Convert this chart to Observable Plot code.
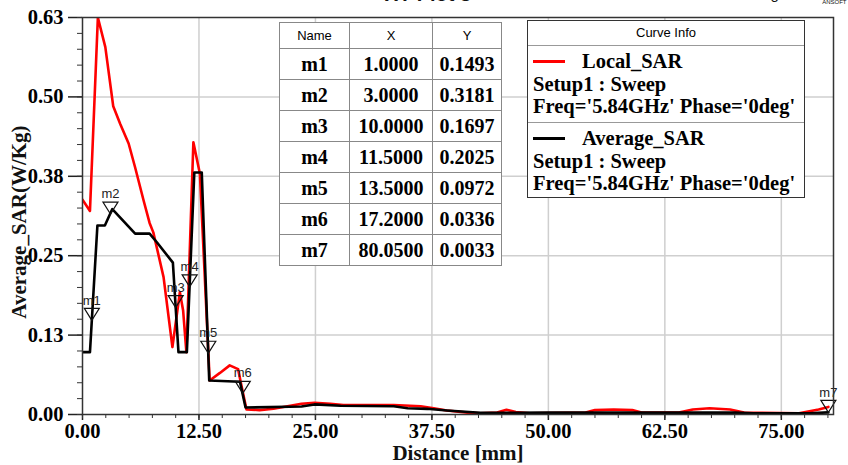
<!DOCTYPE html>
<html>
<head>
<meta charset="utf-8">
<script src="https://cdn.jsdelivr.net/npm/d3@7"></script>
<script src="https://cdn.jsdelivr.net/npm/@observablehq/plot@0.6"></script>
<style>
  body { margin: 0; background: white; }
  #wrap { position: relative; width: 848px; height: 465px; overflow: hidden; background: white; }
  #tbl { position: absolute; left: 279px; top: 22px; border-collapse: collapse; background: white; border: 1.5px solid #333; }
  #tbl td, #tbl th { border: 1px solid #888; padding: 0; text-align: center; }
  #tbl th { font-family: "Liberation Sans", Arial, sans-serif; font-weight: normal; font-size: 13px; height: 25px; }
  #tbl td { font-family: "Liberation Serif", "Times New Roman", serif; font-weight: bold; font-size: 20px; height: 30px; }
  #legend { position: absolute; left: 527px; top: 20px; width: 276px; height: 176px; border: 1.5px solid #333; background: white; }
  #legend .hdr { position: absolute; left: 0; top: 0; width: 100%; height: 24px; border-bottom: 1px solid #999; font-family: "Liberation Sans", Arial, sans-serif; font-size: 13px; text-align: center; line-height: 24px; }
  #legend .sep { position: absolute; left: 0; top: 101px; width: 100%; border-top: 1px solid #999; }
  #legend .sw { position: absolute; left: 5px; width: 32px; height: 3px; }
  #legend .t { position: absolute; white-space: nowrap; font-family: "Liberation Serif", "Times New Roman", serif; font-weight: bold; font-size: 20.5px; line-height: 20px; }
</style>
</head>
<body>
<div id="wrap"></div>
<script>
// ---- data ----
const localX = [0, 0.8, 1.65, 2.45, 3.3, 4.05, 4.95, 5.65, 6.55, 7.2, 7.6, 8.7, 9.65, 10.45, 10.8, 11.15, 11.9, 12.6, 13.65, 14.75, 15.8, 16.7, 17.0, 17.6, 19, 20.5, 23.5, 24.9, 26.6, 28, 33.4, 36.3, 37.7, 39.1, 41.3, 42.7, 44.5, 45.5, 46.5, 48, 54, 55, 57, 59, 60, 64, 65.5, 67.3, 69.5, 71, 76.9, 79, 80.05];
const localY = [0.341, 0.323, 0.63, 0.583, 0.489, 0.461, 0.43, 0.392, 0.34, 0.304, 0.289, 0.218, 0.107, 0.194, 0.165, 0.099, 0.432, 0.382, 0.054, 0.066, 0.078, 0.072, 0.05, 0.008, 0.007, 0.009, 0.017, 0.0185, 0.017, 0.015, 0.015, 0.013, 0.010, 0.0063, 0.003, 0.002, 0.003, 0.0075, 0.004, 0.002, 0.003, 0.007, 0.008, 0.007, 0.003, 0.003, 0.008, 0.010, 0.008, 0.003, 0.002, 0.008, 0.012];
const avgX = [0, 0.8, 1.6, 2.4, 3.2, 5.65, 7.2, 8.0, 9.7, 10.3, 11.2, 12.0, 12.8, 13.6, 16.9, 17.5, 23.5, 24.9, 27.7, 33.4, 34.9, 37, 39.1, 42.7, 50, 60, 70, 72, 78, 80.05];
const avgY = [0.099, 0.099, 0.30, 0.30, 0.326, 0.287, 0.287, 0.273, 0.241, 0.099, 0.099, 0.384, 0.384, 0.054, 0.052, 0.011, 0.0127, 0.016, 0.014, 0.013, 0.010, 0.009, 0.0063, 0.0027, 0.003, 0.003, 0.003, 0.002, 0.002, 0.0033];
const markerNames = ["m1", "m2", "m3", "m4", "m5", "m6", "m7"];
const markerX = [1.0, 3.0, 10.0, 11.5, 13.5, 17.2, 80.05];
const markerY = [0.1493, 0.3181, 0.1697, 0.2025, 0.0972, 0.0336, 0.0033];
const xTicks = [0, 12.5, 25, 37.5, 50, 62.5, 75];
const yTicks = [0, 0.126, 0.252, 0.378, 0.504, 0.63];
const seriesNames = ["Local_SAR", "Average_SAR"];
const setupText = "Setup1 : Sweep";
const freqText = "Freq='5.84GHz' Phase='0deg'";
const titleText = "XY Plot 3";
const xLabel = "Distance [mm]";
const yLabel = "Average_SAR(W/Kg)";

// ---- build ----
const local = localX.map((x, i) => ({x, y: localY[i]}));
const avg = avgX.map((x, i) => ({x, y: avgY[i]}));
const markers = markerNames.map((name, i) => ({name, x: markerX[i], y: markerY[i]}));
const xMinor = d3.range(0, 80.6, 2.5);
const yMinor = d3.range(0, 26).map(i => i * 0.63 / 25);
const serif = "Liberation Serif, Times New Roman, serif";
const sans = "Liberation Sans, Arial, sans-serif";
const triDown = { draw(ctx) { ctx.moveTo(0, 0); ctx.lineTo(-7.5, -12); ctx.lineTo(7.5, -12); ctx.closePath(); } };

const chart = Plot.plot({
  width: 848, height: 465,
  marginTop: 17, marginRight: 15, marginBottom: 51, marginLeft: 82,
  x: {domain: [0, 80.6]},
  y: {domain: [0, 0.63]},
  style: {background: "white", overflow: "visible"},
  marks: [
    Plot.ruleX(xTicks.slice(1), {stroke: "#cfcfcf", strokeWidth: 1.5}),
    Plot.ruleY(yTicks.slice(1, -1), {stroke: "#cfcfcf", strokeWidth: 1.5}),
    Plot.line(local, {x: "x", y: "y", stroke: "#ff0000", strokeWidth: 2.6, clip: true}),
    Plot.line(avg, {x: "x", y: "y", stroke: "#000000", strokeWidth: 2.6, clip: true}),
    Plot.dot(markers, {x: "x", y: "y", symbol: triDown, r: 5, stroke: "#111", strokeWidth: 1.2, fill: "none"}),
    Plot.text(markers, {x: "x", y: "y", text: "name", dy: -20, fontSize: 13, fontFamily: sans, fill: "#222"}),
    Plot.frame({stroke: "#333", strokeWidth: 1.5}),
    Plot.axisY({ticks: yTicks, tickFormat: d3.format(".2f"), tickSize: 14, tickPadding: 5, fontSize: 20.5, fontWeight: "bold", fontFamily: serif, label: null, stroke: "#222", strokeWidth: 1.5}),
    Plot.axisY({ticks: yMinor, tickFormat: () => "", tickSize: 5, label: null, stroke: "#333"}),
    Plot.axisX({ticks: xTicks, tickFormat: d3.format(".2f"), tickSize: 6, tickPadding: 3, fontSize: 20.5, fontWeight: "bold", fontFamily: serif, label: null, stroke: "#222", strokeWidth: 1.5}),
    Plot.axisX({ticks: xMinor, tickFormat: () => "", tickSize: 4, label: null, stroke: "#333"}),
    Plot.text([yLabel], {frameAnchor: "left", textAnchor: "middle", lineAnchor: "middle", dx: -63, dy: 6, rotate: -90, fontSize: 21, fontWeight: "bold", fontFamily: serif, fill: "#111"}),
    Plot.text([xLabel], {frameAnchor: "bottom", lineAnchor: "middle", dy: 39, fontSize: 21, fontWeight: "bold", fontFamily: serif, fill: "#111"}),
    Plot.text([titleText], {frameAnchor: "top", lineAnchor: "middle", dx: -30, dy: -23, fontSize: 20, fontWeight: "bold", fontFamily: sans, fill: "#111"}),
    Plot.text(["HFSSDesign1"], {frameAnchor: "top-right", textAnchor: "end", lineAnchor: "middle", dx: -38, dy: -23, fontSize: 15, fontFamily: sans, fill: "#111"}),
    Plot.text(["ANSOFT"], {frameAnchor: "top-right", textAnchor: "end", lineAnchor: "middle", dx: 13, dy: -15, fontSize: 6, fontFamily: sans, fill: "#111"})
  ]
});
const wrap = document.getElementById("wrap");
wrap.appendChild(chart);

// marker table
const tbl = document.createElement("table");
tbl.id = "tbl";
const colW = [69, 82, 68];
let html = "<tr>" + ["Name", "X", "Y"].map((h, i) => `<th style="width:${colW[i]}px">${h}</th>`).join("") + "</tr>";
markers.forEach(m => {
  html += `<tr><td>${m.name}</td><td>${m.x.toFixed(4)}</td><td>${m.y.toFixed(4)}</td></tr>`;
});
tbl.innerHTML = html;
wrap.appendChild(tbl);

// legend
const lg = document.createElement("div");
lg.id = "legend";
const colors = ["#ff0000", "#000000"];
let lh = `<div class="hdr">Curve Info</div><div class="sep"></div>`;
seriesNames.forEach((s, i) => {
  const top = 25 + i * 77;
  lh += `<div class="sw" style="top:${top + 14}px;background:${colors[i]}"></div>`;
  lh += `<div class="t" style="left:54px;top:${top + 5}px">${s}</div>`;
  lh += `<div class="t" style="left:5px;top:${top + 28}px">${setupText}</div>`;
  lh += `<div class="t" style="left:5px;top:${top + 50}px">${freqText}</div>`;
});
lg.innerHTML = lh;
wrap.appendChild(lg);
</script>
</body>
</html>
